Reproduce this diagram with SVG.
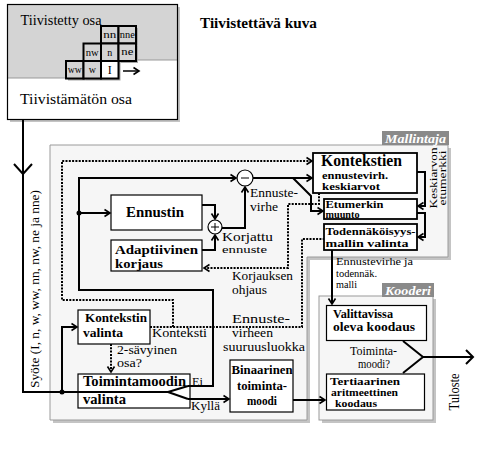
<svg xmlns="http://www.w3.org/2000/svg" width="481" height="460" viewBox="0 0 481 460" font-family="'Liberation Serif', 'DejaVu Serif', serif">
<defs>
<style>
text{font-family:'Liberation Serif','DejaVu Serif',serif;fill:#000}
.b{font-weight:bold}
.s10{font-size:10.5px}.s11{font-size:11px}.s12{font-size:12px}.s13{font-size:13px}.s14{font-size:14px}.s15{font-size:15px}.s16{font-size:16px}
.box{fill:#fff;stroke:#000;stroke-width:1.2}
.bx2{fill:#fff;stroke:#000;stroke-width:1.8}
.ln{fill:none;stroke:#000;stroke-width:2}
.dt{fill:none;stroke:#000;stroke-width:2;stroke-dasharray:2 1.3}
.panel{fill:#f6f6f6;stroke:#9a9a9a;stroke-width:1}
.shd{fill:#c4c4c4}
.lab{fill:#8a8a8a}
.labt{fill:#fff;font-weight:bold;font-style:italic;font-size:13px}
.cell{fill:#d4d4d4;stroke:#000;stroke-width:2}
.cs{fill:#a8a8a8}
.ct{font-size:10px;text-anchor:middle}
</style>
<marker id="ar" markerUnits="userSpaceOnUse" markerWidth="10" markerHeight="10" refX="6" refY="4" orient="auto" viewBox="0 0 10 8">
<path d="M0.5,0.5 L6,4 L0.5,7.5" fill="none" stroke="#000" stroke-width="1.6"/>
</marker>
</defs>
<rect width="481" height="460" fill="#fff"/>

<g id="image-box">
<rect x="10" y="7" width="170" height="115" class="shd"/>
<rect x="7" y="4" width="170" height="115" fill="#fff"/>
<polygon points="7,4 177,4 177,60 118,60 118,78 7,78" fill="#d4d4d4"/>
<line x1="135" y1="60" x2="177" y2="60" stroke="#999" stroke-width="1"/>
<line x1="7" y1="78" x2="66" y2="78" stroke="#999" stroke-width="1"/>
<rect x="7.5" y="4.5" width="170" height="115" fill="none" stroke="#000" stroke-width="1.2"/>
<text x="20.5" y="25" class="s15" textLength="81" lengthAdjust="spacingAndGlyphs">Tiivistetty osa</text>
<text x="20" y="104" class="s15" textLength="112" lengthAdjust="spacingAndGlyphs">Tiivistämätön osa</text>
<g id="cells">
<rect x="103" y="28" width="17.5" height="17.5" class="cs"/>
<rect x="120.5" y="28" width="17.5" height="17.5" class="cs"/>
<rect x="85.5" y="45.5" width="17.5" height="17.5" class="cs"/>
<rect x="103" y="45.5" width="17.5" height="17.5" class="cs"/>
<rect x="120.5" y="45.5" width="17.5" height="17.5" class="cs"/>
<rect x="68" y="63" width="17.5" height="17.5" class="cs"/>
<rect x="85.5" y="63" width="17.5" height="17.5" class="cs"/>
<rect x="103" y="63" width="17.5" height="17.5" class="cs"/>
<rect x="101" y="26" width="17.5" height="17.5" class="cell"/>
<rect x="118.5" y="26" width="17.5" height="17.5" class="cell"/>
<rect x="83.5" y="43.5" width="17.5" height="17.5" class="cell"/>
<rect x="101" y="43.5" width="17.5" height="17.5" class="cell"/>
<rect x="118.5" y="43.5" width="17.5" height="17.5" class="cell"/>
<rect x="66" y="61" width="17.5" height="17.5" class="cell"/>
<rect x="83.5" y="61" width="17.5" height="17.5" class="cell"/>
<rect x="101" y="61" width="17.5" height="17.5" class="cell" style="fill:#fff"/>
<text x="109.8" y="38" class="ct" textLength="13" lengthAdjust="spacingAndGlyphs">nn</text>
<text x="127.3" y="38" class="ct" textLength="15" lengthAdjust="spacingAndGlyphs">nne</text>
<text x="92.3" y="56" class="ct" textLength="13" lengthAdjust="spacingAndGlyphs">nw</text>
<text x="109.8" y="56" class="ct">n</text>
<text x="127.3" y="55" class="ct" textLength="12" lengthAdjust="spacingAndGlyphs">ne</text>
<text x="74.8" y="73" class="ct" textLength="14" lengthAdjust="spacingAndGlyphs">ww</text>
<text x="92.3" y="73" class="ct">w</text>
<text x="109.8" y="74" class="ct" style="font-size:12px">I</text>
</g>
<line x1="123" y1="71" x2="139" y2="71" stroke="#000" stroke-width="1.5" marker-end="url(#ar)"/>
</g>

<g id="title">
<text x="200" y="28" class="s15 b" textLength="117" lengthAdjust="spacingAndGlyphs">Tiivistettävä kuva</text>
</g>

<g id="mallintaja">
<path d="M53,148 H451 V260 H310 V423 H53 Z" class="shd"/>
<path d="M50,145 H448 V257 H307 V420 H50 Z" class="panel"/>
<rect x="382" y="131" width="67" height="14" class="lab"/>
<text x="385" y="142.5" class="labt" textLength="61" lengthAdjust="spacingAndGlyphs">Mallintaja</text>
</g>

<g id="kooderi">
<rect x="322" y="299" width="114" height="124" class="shd"/>
<rect x="319" y="296" width="114" height="124" class="panel"/>
<rect x="382" y="283" width="52" height="14" class="lab"/>
<text x="385" y="294.5" class="labt" textLength="46" lengthAdjust="spacingAndGlyphs">Kooderi</text>
</g>

<g id="ennustin">
<rect x="111" y="195" width="91" height="35" class="box"/>
<text x="126" y="217" class="s15 b" textLength="58" lengthAdjust="spacingAndGlyphs">Ennustin</text>
</g>
<g id="adaptiivinen">
<rect x="111" y="240" width="91" height="31" class="box"/>
<text x="115" y="253.5" class="s13 b" textLength="83" lengthAdjust="spacingAndGlyphs">Adaptiivinen</text>
<text x="115" y="267.5" class="s13 b" textLength="48" lengthAdjust="spacingAndGlyphs">korjaus</text>
</g>
<g id="kontekstien">
<rect x="313" y="153" width="104" height="40" class="bx2"/>
<text x="321" y="166" class="s16 b" textLength="81" lengthAdjust="spacingAndGlyphs">Kontekstien</text>
<text x="322" y="179" class="s11 b" textLength="66" lengthAdjust="spacingAndGlyphs">ennustevirh.</text>
<text x="322" y="190" class="s11 b" textLength="58" lengthAdjust="spacingAndGlyphs">keskiarvot</text>
</g>
<g id="etumerkin">
<rect x="324" y="199" width="93" height="20" class="bx2"/>
<text x="325.5" y="208" class="s10 b" textLength="58" lengthAdjust="spacingAndGlyphs">Etumerkin</text>
<text x="325.5" y="217.5" class="s10 b" textLength="34" lengthAdjust="spacingAndGlyphs">muunto</text>
</g>
<g id="todennakoisyys">
<rect x="324" y="224" width="93" height="26" class="bx2"/>
<text x="325.5" y="235" class="s11 b" textLength="90" lengthAdjust="spacingAndGlyphs">Todennäköisyys-</text>
<text x="325.5" y="247" class="s11 b" textLength="83" lengthAdjust="spacingAndGlyphs">mallin valinta</text>
</g>
<g id="kontekstin">
<rect x="78" y="310" width="72" height="34" class="box"/>
<text x="85" y="322" class="s12 b" textLength="62" lengthAdjust="spacingAndGlyphs">Kontekstin</text>
<text x="83" y="337" class="s13 b" textLength="40" lengthAdjust="spacingAndGlyphs">valinta</text>
</g>
<g id="toimintamoodin">
<rect x="78" y="374" width="112" height="34" class="box"/>
<text x="83" y="386" class="s14 b" textLength="103" lengthAdjust="spacingAndGlyphs">Toimintamoodin</text>
<text x="83" y="404" class="s14 b" textLength="43" lengthAdjust="spacingAndGlyphs">valinta</text>
</g>
<g id="binaarinen">
<rect x="230" y="360" width="63" height="52" class="box"/>
<text x="231.5" y="374" class="s12 b" textLength="61" lengthAdjust="spacingAndGlyphs">Binaarinen</text>
<text x="237" y="390" class="s12 b" textLength="50" lengthAdjust="spacingAndGlyphs">toiminta-</text>
<text x="247" y="405" class="s12 b" textLength="30" lengthAdjust="spacingAndGlyphs">moodi</text>
</g>
<g id="valittavissa">
<rect x="326.5" y="305.5" width="100" height="35" class="box"/>
<text x="333" y="318" class="s12 b" textLength="60" lengthAdjust="spacingAndGlyphs">Valittavissa</text>
<text x="333" y="331" class="s12 b" textLength="82" lengthAdjust="spacingAndGlyphs">oleva koodaus</text>
</g>
<g id="tertiaarinen">
<rect x="326.5" y="374" width="98" height="36" class="box"/>
<text x="330" y="385" class="s11 b" textLength="70" lengthAdjust="spacingAndGlyphs">Tertiaarinen</text>
<text x="331" y="396" class="s11 b" textLength="67" lengthAdjust="spacingAndGlyphs">aritmeettinen</text>
<text x="335" y="407" class="s11 b" textLength="42" lengthAdjust="spacingAndGlyphs">koodaus</text>
</g>
<g id="summa-plus">
<circle cx="215" cy="227" r="7" fill="#fff" stroke="#000" stroke-width="1.2"/>
<path d="M211,227 H219 M215,223 V231" stroke="#000" stroke-width="1"/>
</g>
<g id="summa-minus">
<circle cx="245" cy="178" r="8" fill="#fff" stroke="#000" stroke-width="1.2"/>
<path d="M241,178 H249" stroke="#000" stroke-width="1"/>
</g>

<g id="connectors">
<polyline points="23,119 23,392 168,392" class="ln"/>
<polyline points="14,164 23,174 32,164" fill="none" stroke="#000" stroke-width="2"/>
<circle cx="62" cy="392" r="2.5"/>
<polyline points="62,392 62,327 77,327" class="ln" marker-end="url(#ar)"/>
<polyline points="168,392 188,386" class="ln"/>
<polyline points="168,392 188,399" class="ln"/>
<polyline points="188,386 213,386 213,290 79,290 79,178 236,178" class="ln" marker-end="url(#ar)"/>
<circle cx="79" cy="213" r="2.5"/>
<polyline points="79,213 110,213" class="ln" marker-end="url(#ar)"/>
<polyline points="188,399 229,399" class="ln" marker-end="url(#ar)"/>
<polyline points="202,205 215,205 215,219" class="ln" marker-end="url(#ar)"/>
<polyline points="202,250 215,250 215,235" class="ln" marker-end="url(#ar)"/>
<polyline points="222,228 245,228 245,187" class="ln" marker-end="url(#ar)"/>
<polyline points="253,178 312,178" class="ln" marker-end="url(#ar)"/>
<polyline points="293,178 311,196 311,211 323,211" class="ln" marker-end="url(#ar)"/>
<polyline points="417,172 425,172 425,206 418,206" class="ln" marker-end="url(#ar)"/>
<polyline points="417,213 425,213 425,237 418,237" class="ln" marker-end="url(#ar)"/>
<polyline points="332,250 332,304" class="ln" marker-end="url(#ar)"/>
<polyline points="293,400 325,400" class="ln" marker-end="url(#ar)"/>
<polyline points="403,341 423,357 403,373" class="ln"/>
<polyline points="423,357 472,357" class="ln"/>
<polyline points="466,350 473,357 466,364" fill="none" stroke="#000" stroke-width="2"/>
<polyline points="111,344 111,372" class="dt" marker-end="url(#ar)"/>
<polyline points="319,193 319,204 288,204 288,268 204,268" class="dt" marker-end="url(#ar)"/>
<polyline points="150,327 302,327 302,239 324,239" class="dt"/>
<polyline points="173,327 173,300 62,300 62,161 312,161" class="dt" marker-end="url(#ar)"/>
</g>

<g id="labels">
<text x="250" y="197" class="s13" textLength="48" lengthAdjust="spacingAndGlyphs">Ennuste-</text>
<text x="250" y="211" class="s13" textLength="28" lengthAdjust="spacingAndGlyphs">virhe</text>
<text x="222" y="241" class="s12" textLength="51" lengthAdjust="spacingAndGlyphs">Korjattu</text>
<text x="222" y="253" class="s11" textLength="45" lengthAdjust="spacingAndGlyphs">ennuste</text>
<text x="232" y="280" class="s12" textLength="61" lengthAdjust="spacingAndGlyphs">Korjauksen</text>
<text x="232" y="293.5" class="s12" textLength="35" lengthAdjust="spacingAndGlyphs">ohjaus</text>
<text x="232" y="323" class="s13" textLength="58" lengthAdjust="spacingAndGlyphs">Ennuste-</text>
<text x="232" y="337" class="s12" textLength="41" lengthAdjust="spacingAndGlyphs">virheen</text>
<text x="223" y="351" class="s12" textLength="82" lengthAdjust="spacingAndGlyphs">suuruusluokka</text>
<text x="152" y="337" class="s13" textLength="55" lengthAdjust="spacingAndGlyphs">Konteksti</text>
<text x="117" y="354" class="s12" textLength="60" lengthAdjust="spacingAndGlyphs">2-sävyinen</text>
<text x="117" y="367" class="s12" textLength="25" lengthAdjust="spacingAndGlyphs">osa?</text>
<text x="192" y="386" class="s13" textLength="11" lengthAdjust="spacingAndGlyphs">Ei</text>
<text x="191" y="410" class="s13" textLength="29" lengthAdjust="spacingAndGlyphs">Kyllä</text>
<text x="336" y="265" class="s11" textLength="77" lengthAdjust="spacingAndGlyphs">Ennustevirhe  ja</text>
<text x="336" y="277" class="s11" textLength="41" lengthAdjust="spacingAndGlyphs">todennäk.</text>
<text x="336" y="288" class="s11" textLength="21" lengthAdjust="spacingAndGlyphs">malli</text>
<text x="350" y="354.5" class="s12" textLength="47" lengthAdjust="spacingAndGlyphs">Toiminta-</text>
<text x="358" y="368" class="s12" textLength="32" lengthAdjust="spacingAndGlyphs">moodi?</text>
<text transform="translate(459,392) rotate(-90)" text-anchor="middle" class="s14" textLength="37" lengthAdjust="spacingAndGlyphs">Tuloste</text>
<text transform="translate(437,178) rotate(-90)" text-anchor="middle" class="s11" textLength="61" lengthAdjust="spacingAndGlyphs">Keskiarvon</text>
<text transform="translate(446,178) rotate(-90)" text-anchor="middle" class="s11" textLength="55" lengthAdjust="spacingAndGlyphs">etumerkki</text>
<text transform="translate(39,289) rotate(-90)" text-anchor="middle" class="s12" textLength="198" lengthAdjust="spacingAndGlyphs">Syöte (I, n, w, ww, nn, nw, ne ja nne)</text>
</g>
</svg>
